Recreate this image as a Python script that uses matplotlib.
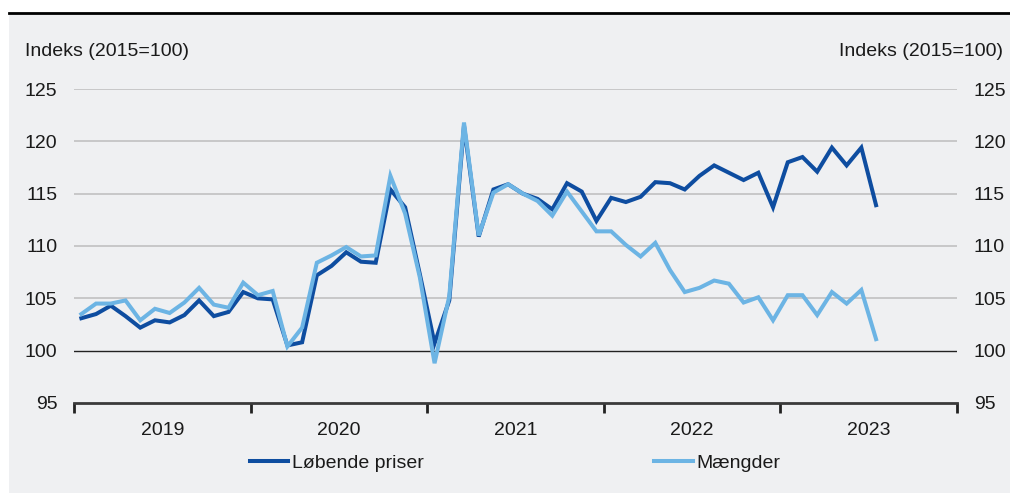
import matplotlib
matplotlib.use("Agg")
import matplotlib.pyplot as plt
from matplotlib.patches import Rectangle
from matplotlib.lines import Line2D
import numpy as np

plt.rcParams['font.family'] = ['Liberation Sans', 'DejaVu Sans']

years = ["2019", "2020", "2021", "2022", "2023"]
lobende_priser = [103.1, 103.5, 104.3, 103.3, 102.2, 102.9, 102.7, 103.4, 104.8, 103.3,
                  103.7, 105.6, 105.0, 104.9, 100.5, 100.8, 107.2, 108.1, 109.4, 108.5,
                  108.4, 115.4, 113.7, 107.3, 100.7, 104.8, 121.5, 110.9, 115.4, 115.9,
                  115.0, 114.5, 113.5, 116.0, 115.2, 112.4, 114.6, 114.2, 114.7, 116.1,
                  116.0, 115.4, 116.7, 117.7, 117.0, 116.3, 117.0, 113.7, 118.0, 118.5,
                  117.1, 119.4, 117.7, 119.4, 113.9]
maengder = [103.5, 104.5, 104.5, 104.8, 102.9, 104.0, 103.6, 104.6, 106.0, 104.4,
            104.1, 106.5, 105.3, 105.7, 100.4, 102.2, 108.4, 109.1, 109.9, 109.0,
            109.1, 116.7, 113.1, 107.0, 98.8, 105.2, 121.8, 111.0, 115.1, 115.9,
            115.0, 114.3, 112.9, 115.2, 113.3, 111.4, 111.4, 110.1, 109.0, 110.3,
            107.7, 105.6, 106.0, 106.7, 106.4, 104.6, 105.1, 102.9, 105.3, 105.3,
            103.4, 105.6, 104.5, 105.8, 101.1]
series_names = ["Løbende priser", "Mængder"]
y_ticks = [95, 100, 105, 110, 115, 120, 125]
axis_label = "Indeks (2015=100)"

DARK = "#0E4DA0"
LIGHT = "#6CB4E4"
BG = "#EFF0F2"
FS = 14

W, H = 1010, 493
fig = plt.figure(figsize=(W / 100, H / 100), dpi=100)
fig.patch.set_facecolor("white")

# gray panel and top rule
panel = Rectangle((9 / W, 0), 1 - 9 / W, 1 - 14 / H, transform=fig.transFigure,
                  facecolor=BG, edgecolor="none", zorder=-10)
fig.add_artist(panel)
fig.add_artist(Line2D([9 / W, 1], [1 - 12.5 / H, 1 - 12.5 / H], transform=fig.transFigure,
                      color="black", lw=2))

left, right, top, bottom = 74, 957, 89, 403
ax = fig.add_axes([left / W, 1 - bottom / H, (right - left) / W, (bottom - top) / H])
ax.set_facecolor(BG)
ax.patch.set_alpha(0)

x = np.arange(len(lobende_priser)) + 0.5
ax.set_xlim(0, 12 * len(years))
ax.set_ylim(95, 125)

for yv in y_ticks[2:]:
    ax.axhline(yv, color="#BDBDBD", lw=1.1, zorder=1)
ax.axhline(100, color="#222222", lw=1.0, zorder=1)

ax.plot(x, lobende_priser, color=DARK, lw=2.9, zorder=3, solid_joinstyle="miter",
        label=series_names[0])
ax.plot(x, maengder, color=LIGHT, lw=2.9, zorder=4, solid_joinstyle="miter",
        label=series_names[1])

for s in ["top", "left", "right"]:
    ax.spines[s].set_visible(False)
ax.spines["bottom"].set_color("#3A3A3A")
ax.spines["bottom"].set_linewidth(2)

ax.set_yticks(y_ticks)
ax.set_yticklabels([str(v) for v in y_ticks])
ax.tick_params(axis="y", length=0, pad=12, labelsize=FS, colors="#1A1A1A",
               left=True, right=True, labelleft=True, labelright=True)

ax.set_xticks(np.arange(0, 12 * len(years) + 1, 12))
ax.set_xticklabels([])
ax.set_xticks(np.arange(6, 12 * len(years), 12), minor=True)
ax.set_xticklabels(years, minor=True)
ax.tick_params(axis="x", which="major", length=7, width=2, color="#222222", direction="out")
ax.tick_params(axis="x", which="minor", length=0, pad=14, labelsize=FS, colors="#1A1A1A")

fig.text(25 / W, 1 - 52 / H, axis_label, fontsize=FS, ha="left", va="center", color="#1A1A1A")
fig.text(1003 / W, 1 - 52 / H, axis_label, fontsize=FS, ha="right", va="center", color="#1A1A1A")

leg = fig.legend(loc="center", bbox_to_anchor=(515 / W, 1 - 463 / H), ncol=2,
                 frameon=False, fontsize=FS, handlelength=2.0, handletextpad=0.2,
                 columnspacing=11.8)
for t in leg.get_texts():
    t.set_color("#1A1A1A")

fig.savefig("out.png", dpi=100, facecolor=fig.get_facecolor())
